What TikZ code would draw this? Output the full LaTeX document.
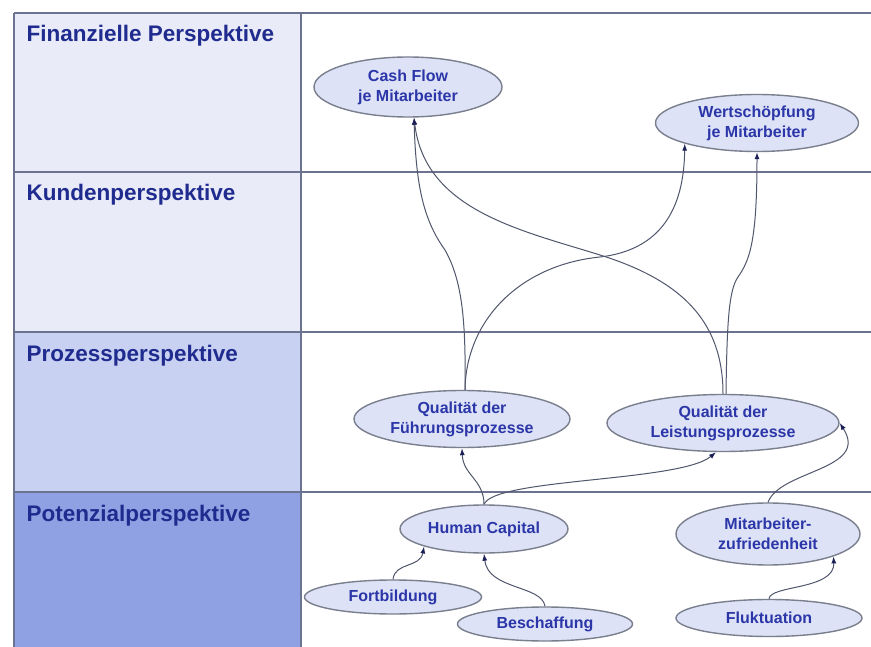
\documentclass[tikz,border=0pt]{standalone}
\usepackage{fontspec}
\setmainfont{Liberation Sans}
\usetikzlibrary{shapes.geometric,arrows.meta}

\definecolor{lanelight}{HTML}{E9EBF8}
\definecolor{lanemid}{HTML}{C9D1F2}
\definecolor{lanedark}{HTML}{8FA1E2}
\definecolor{gridline}{HTML}{6B7390}
\definecolor{ellfill}{HTML}{DDE2F6}
\definecolor{ellborder}{HTML}{7A7F8E}
\definecolor{nodetext}{HTML}{2B36A8}
\definecolor{lanetext}{HTML}{1F2B8E}
\definecolor{linkgray}{HTML}{50566C}
\definecolor{tipblue}{HTML}{1C2258}

\begin{document}
\begin{tikzpicture}[x=1pt,y=-1pt,
  goal/.style={ellipse, draw=ellborder, line width=1.4pt, fill=ellfill,
    inner sep=0pt, align=center, text=nodetext,
    font=\bfseries\fontsize{16}{20}\selectfont},
  lane/.style={anchor=base west, text=lanetext,
    font=\bfseries\fontsize{22.5}{26}\selectfont},
  gridrule/.style={draw=gridline, line width=1.8pt},
  link/.style={draw=linkgray, line width=1pt,
    -{Latex[length=7pt,width=5pt,color=tipblue]}}
]
\useasboundingbox (0,0) rectangle (871,647);
\fill[white] (0,0) rectangle (871,647);

% perspective column
\fill[lanelight] (14,13) rectangle (301,332);
\fill[lanemid]   (14,332) rectangle (301,492);
\fill[lanedark]  (14,492) rectangle (301,647);

% rows and columns
\draw[gridrule] (14,13) -- (871,13);
\draw[gridrule] (14,172) -- (871,172);
\draw[gridrule] (14,332) -- (871,332);
\draw[gridrule] (14,492) -- (871,492);
\draw[gridrule] (14,13) -- (14,647);
\draw[gridrule] (301,13) -- (301,647);

% perspective names
\node[lane] (l1) at (23,42)  {Finanzielle Perspektive};
\node[lane] (l2) at (23,201) {Kundenperspektive};
\node[lane] (l3) at (23,361) {Prozessperspektive};
\node[lane] (l4) at (23,521) {Potenzialperspektive};

% goals
\node[goal, minimum width=188, minimum height=60] (cf) at (408,87)  {Cash Flow\\je Mitarbeiter};
\node[goal, minimum width=203, minimum height=57] (ws) at (757,123) {Wertschöpfung\\je Mitarbeiter};
\node[goal, minimum width=216, minimum height=57] (qf) at (462,419) {Qualität der\\Führungsprozesse};
\node[goal, minimum width=232, minimum height=57] (ql) at (723,423) {Qualität der\\Leistungsprozesse};
\node[goal, minimum width=168, minimum height=48] (hc) at (484,529) {Human Capital};
\node[goal, minimum width=184, minimum height=62] (mz) at (768,534) {Mitarbeiter-\\zufriedenheit};
\node[goal, minimum width=177, minimum height=34] (fb) at (393,597) {Fortbildung};
\node[goal, minimum width=175, minimum height=34] (bs) at (545,624) {Beschaffung};
\node[goal, minimum width=186, minimum height=37] (fl) at (769,618) {Fluktuation};

% cause-and-effect links
\draw[link] ([xshift=3]qf.north) .. controls (466,320) and (462,280) .. (445,250)
            .. controls (425,222) and (416,190) .. ([xshift=6]cf.south);
\draw[link] ([xshift=3]qf.north) .. controls (466,320) and (520,265) .. (600,257)
            .. controls (660,250) and (684,210) .. (ws.south west);
\draw[link] (ql.north) .. controls (723,320) and (680,280) .. (600,255)
            .. controls (520,230) and (425,210) .. ([xshift=6]cf.south);
\draw[link] ([xshift=3]ql.north) .. controls (727,320) and (729,290) .. (738,277)
            .. controls (750,260) and (757,240) .. (ws.south);
\draw[link] (hc.north) .. controls (484,480) and (463,475) .. (qf.south);
\draw[link] (hc.north) .. controls (495,478) and (680,482) .. ([xshift=-7]ql.south);
\draw[link] (mz.north) .. controls (780,470) and (870,470) .. (ql.east);
\draw[link] (fb.north) .. controls (395,562) and (420,568) .. (hc.south west);
\draw[link] (bs.north) .. controls (542,585) and (488,590) .. (hc.south);
\draw[link] (fl.north) .. controls (770,585) and (835,590) .. (mz.south east);
\end{tikzpicture}
\end{document}
